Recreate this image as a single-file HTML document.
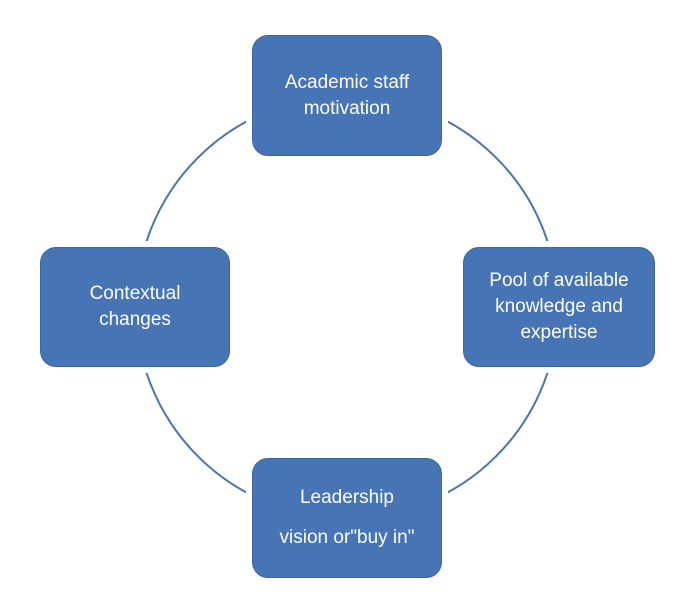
<!DOCTYPE html>
<html><head><meta charset="utf-8"><style>
body{margin:0;width:689px;height:610px;background:#fff;position:relative;overflow:hidden;font-family:"Liberation Sans",sans-serif}
.b{position:absolute;background:#4674b4;border:1px solid #3d66a0;border-radius:16px;color:#fff;font-size:19px;text-align:center;display:flex;flex-direction:column;justify-content:center;line-height:26px;box-sizing:border-box;box-shadow:0 0 0 6px #fff}
</style></head><body>
<svg width="689" height="610" style="position:absolute;left:0;top:0"><circle cx="347" cy="307" r="211" fill="none" stroke="#4a74b0" stroke-width="2"/></svg>
<div class="b" style="left:252px;top:35px;width:190px;height:121px"><div>Academic staff</div><div>motivation</div></div>
<div class="b" style="left:463px;top:247px;width:192px;height:120px"><div>Pool of available</div><div>knowledge and</div><div>expertise</div></div>
<div class="b" style="left:40px;top:247px;width:190px;height:120px"><div>Contextual</div><div>changes</div></div>
<div class="b" style="left:252px;top:458px;width:190px;height:120px;line-height:40px"><div>Leadership</div><div>vision or"buy in"</div></div>
</body></html>
